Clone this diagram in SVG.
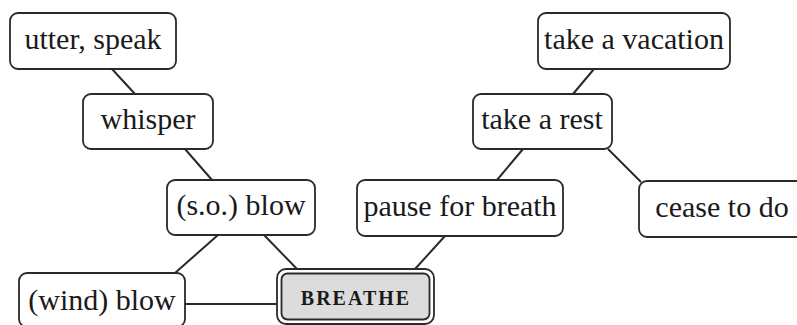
<svg xmlns="http://www.w3.org/2000/svg" width="797" height="325" viewBox="0 0 797 325">
<style>
.box{fill:#fff;stroke:#2a2a2a;stroke-width:1.8}
.lbl{font-family:"Liberation Serif","Times New Roman",serif;font-size:30px;fill:#1a1a1a;text-anchor:middle}
.main{font-family:"Liberation Serif","Times New Roman",serif;font-size:20px;fill:#1a1a1a;text-anchor:middle;letter-spacing:2px;font-weight:bold}
.edge{stroke:#2a2a2a;stroke-width:2;fill:none}
</style>
<rect width="797" height="325" fill="#fff"/>
<g id="connectors">
<line class="edge" x1="112" y1="69" x2="135" y2="94"/>
<line class="edge" x1="185" y1="149" x2="212" y2="180"/>
<line class="edge" x1="218" y1="235" x2="175" y2="273"/>
<line class="edge" x1="264" y1="235" x2="297" y2="269"/>
<line class="edge" x1="185" y1="304" x2="277" y2="304"/>
<line class="edge" x1="445" y1="236" x2="415" y2="269"/>
<line class="edge" x1="523" y1="149" x2="497" y2="180"/>
<line class="edge" x1="594" y1="69" x2="573" y2="94"/>
<line class="edge" x1="608" y1="149" x2="641" y2="182"/>
</g>
<g id="utter-speak"><rect class="box" x="10" y="13" width="166" height="56" rx="8"/><text class="lbl" x="93" y="49">utter, speak</text></g>
<g id="whisper"><rect class="box" x="83" y="94" width="130" height="55" rx="8"/><text class="lbl" x="148" y="129">whisper</text></g>
<g id="so-blow"><rect class="box" x="167" y="180" width="148" height="55" rx="8"/><text class="lbl" x="241" y="215">(s.o.) blow</text></g>
<g id="pause-for-breath"><rect class="box" x="357" y="180" width="206" height="56" rx="8"/><text class="lbl" x="460" y="216">pause for breath</text></g>
<g id="take-a-vacation"><rect class="box" x="538" y="13" width="192" height="56" rx="8"/><text class="lbl" x="634" y="49">take a vacation</text></g>
<g id="take-a-rest"><rect class="box" x="473" y="94" width="139" height="55" rx="8"/><text class="lbl" x="542" y="129">take a rest</text></g>
<g id="cease-to-do"><rect class="box" x="639" y="181" width="166" height="56" rx="8"/><text class="lbl" x="722" y="217">cease to do</text></g>
<g id="wind-blow"><rect class="box" x="19" y="273" width="166" height="54" rx="8"/><text class="lbl" x="102" y="310">(wind) blow</text></g>
<g id="breathe"><rect x="277" y="269" width="157" height="55" rx="9" fill="#fff" stroke="#2a2a2a" stroke-width="1.8"/><rect x="281.5" y="273.5" width="148" height="46" rx="6" fill="#dcdcdc" stroke="#2a2a2a" stroke-width="1.8"/><text class="main" x="356" y="305">BREATHE</text></g>
</svg>
